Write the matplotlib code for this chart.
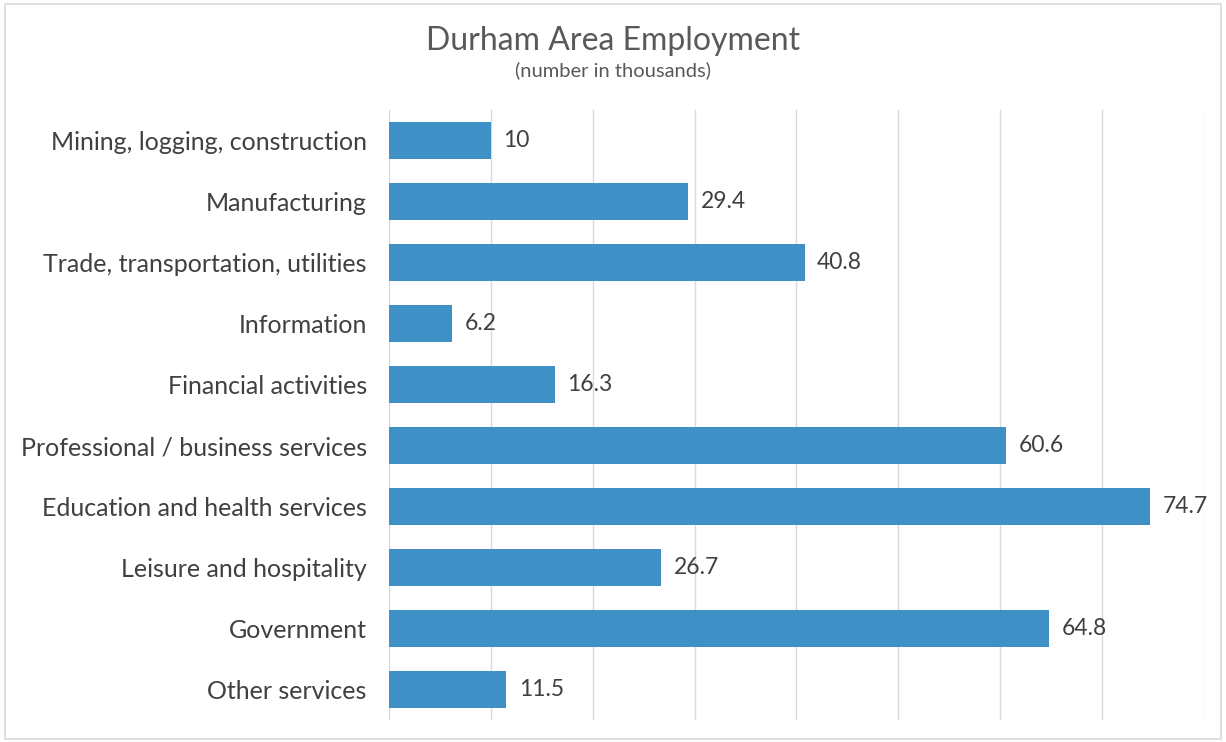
import matplotlib.pyplot as plt
from matplotlib.patches import Rectangle

categories = ["Mining, logging, construction", "Manufacturing",
              "Trade, transportation, utilities", "Information",
              "Financial activities", "Professional / business services",
              "Education and health services", "Leisure and hospitality",
              "Government", "Other services"]
values = [10, 29.4, 40.8, 6.2, 16.3, 60.6, 74.7, 26.7, 64.8, 11.5]
value_labels = ["10", "29.4", "40.8", "6.2", "16.3", "60.6", "74.7", "26.7", "64.8", "11.5"]

plt.rcParams['font.family'] = ['Lato', 'DejaVu Sans']

fig = plt.figure(figsize=(12.26, 7.42), dpi=100)
ax = fig.add_axes([0.3173, 0.0296, 0.982 - 0.3173, 0.8518 - 0.0296])

pos = list(range(len(categories)))
ax.barh(pos, values, height=0.62, color="#3F90C7", zorder=3)
ax.set_ylim(len(categories) - 0.5, -0.5)
ax.set_xlim(0, 80)
ax.set_xticks(range(0, 81, 10))
ax.xaxis.grid(True, color="#D9D9D9", lw=1, zorder=0)
ax.tick_params(axis='x', length=0, labelbottom=False)
ax.tick_params(axis='y', length=0, pad=16, labelsize=18, labelcolor="#404040")
ax.set_yticks(pos)
ax.set_yticklabels(categories)
for s in ax.spines.values():
    s.set_visible(False)

for p, v, lab in zip(pos, values, value_labels):
    ax.annotate(lab, (v, p), xytext=(9, 0), textcoords="offset points",
                va="center", ha="left", fontsize=16.5, color="#404040")

fig.text(0.5, 0.945, "Durham Area Employment", ha="center", va="center",
         fontsize=23, color="#595959")
fig.text(0.5, 0.905, "(number in thousands)", ha="center", va="center",
         fontsize=14.5, color="#595959")

fig.patches.append(Rectangle((0.004, 0.004), 0.992, 0.99, transform=fig.transFigure,
                             fill=False, edgecolor="#D9D9D9", lw=1.2))

fig.savefig("out.png", dpi=100)
